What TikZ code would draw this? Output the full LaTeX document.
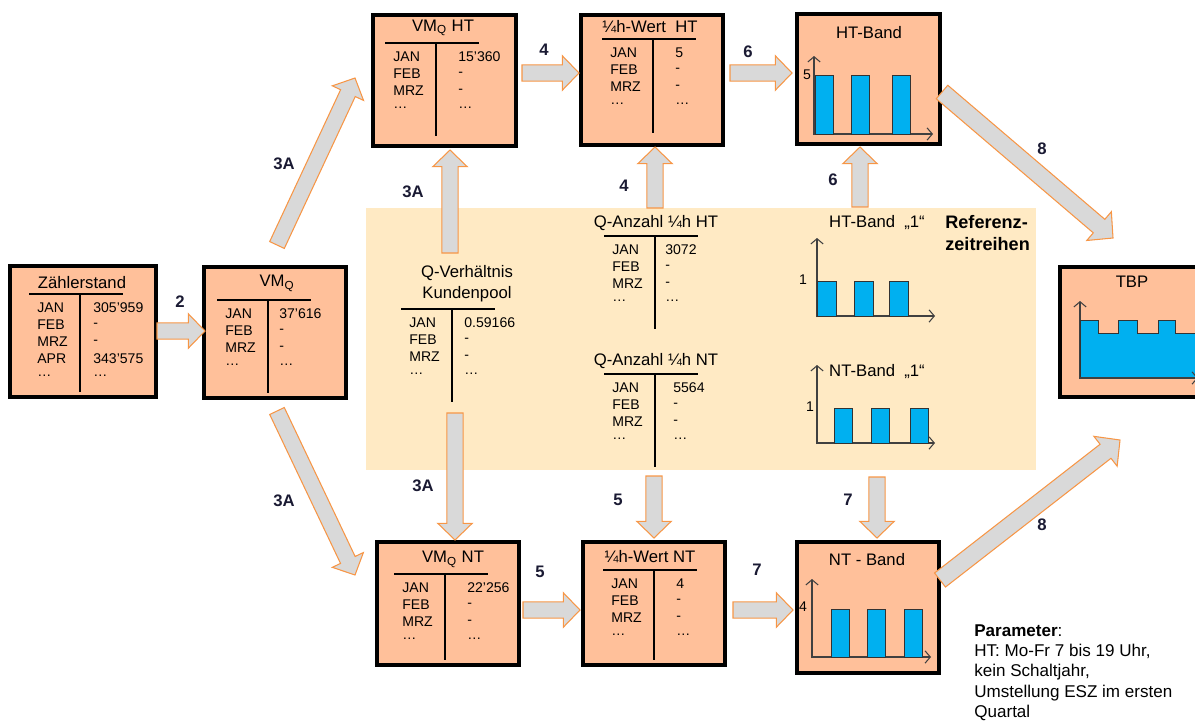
\documentclass[tikz,border=0pt]{standalone}
\usepackage{fontspec}
\setmainfont{Liberation Sans}
\usetikzlibrary{arrows.meta,calc,positioning,fit}

\definecolor{boxfill}{HTML}{FFC09A}
\definecolor{panelfill}{HTML}{FFEAC4}
\definecolor{barblue}{HTML}{00B0F0}
\definecolor{arrline}{HTML}{F79646}
\definecolor{arrfill}{HTML}{D9D9D9}
\definecolor{steplbl}{HTML}{1A1A33}

\tikzset{
  box/.style={draw=black, line width=2pt, fill=boxfill, inner sep=0pt},
  panel/.style={fill=panelfill, draw=none, inner sep=0pt},
  ttl/.style={font=\fontsize{9.5}{12}\selectfont, inner sep=0pt},
  cell/.style={font=\fontsize{8}{9}\selectfont, anchor=west, inner sep=0pt},
  tick/.style={font=\fontsize{8}{9}\selectfont, inner sep=0pt},
  steplabel/.style={font=\fontsize{9.5}{11}\selectfont\bfseries, text=steplbl, inner sep=0pt},
  tabline/.style={draw=black, line width=0.6pt},
  blockarr/.style={draw=arrline, fill=arrfill, line width=0.6pt, line join=miter},
  bar/.style={draw=black!80, fill=barblue, line width=0.5pt},
  axis/.style={draw=black!75, line width=0.6pt, -{Straight Barb[length=3pt,width=7pt]}},
}

% Wertetabelle: Name, Mitte x, Linie y, Abstand rechte Spalte, Laenge Strich, Zeilen
\newcommand{\valtab}[6]{%
  \draw[tabline] (#2-47,#3) -- (#2+47,#3);
  \draw[tabline] (#2+4,#3) -- (#2+4,#3+#5);
  \foreach \mon/\val [count=\i] in {#6} {
    \node[cell] (#1-m\i) at (#2-39,#3+14+17*\i-17) {\mon};
    \node[cell] (#1-v\i) at (#2+#4,#3+14+17*\i-17) {\val};
  }%
}

% Blockpfeil von #2 nach #3, #1 = Faktor
\newcommand{\barrow}[3][1]{%
  \coordinate (ba-h) at ($(#3)!#1*9.5pt!(#2)$);
  \draw[blockarr] ($(#2)!#1*4.6pt!90:(#3)$) -- ($(ba-h)!#1*4.6pt!90:(#3)$)
    -- ($(ba-h)!#1*9.8pt!90:(#3)$) -- (#3) -- ($(ba-h)!#1*9.8pt!-90:(#3)$)
    -- ($(ba-h)!#1*4.6pt!-90:(#3)$) -- ($(#2)!#1*4.6pt!-90:(#3)$) -- cycle;
}

\begin{document}
\begin{tikzpicture}[x=0.02cm, y=-0.02cm]
	\clip (0,0) rectangle (1195,724);
	% Hintergrund
		\node[panel, fit={(366,208) (1036,470)}] (ref) {};
	% Boxen
		\node[box, fit={(10,266) (156,397)}] (zs) {};
		\node[box, fit={(204,267) (346,398)}] (vmq) {};
		\node[box, fit={(373,15) (516,146)}] (vmqht) {};
		\node[box, fit={(581,15) (723,145)}] (qwht) {};
		\node[box, fit={(797,14) (940,144)}] (htband) {};
		\node[box, fit={(1060,267) (1204,397)}] (tbp) {};
		\node[box, fit={(377,542) (519,665)}] (vmqnt) {};
		\node[box, fit={(583,542) (725,665)}] (qwnt) {};
		\node[box, fit={(797,542) (939,673)}] (ntband) {};
	% Titel
		\node[ttl] (zs-t) at (82,283) {Zählerstand};
		\node[ttl] (vmq-t) at (277,283) {VM\textsubscript{Q}};
		\node[ttl] (vmqht-t) at (443,28) {VM\textsubscript{Q} HT};
		\node[ttl] (qwht-t) at (650,27) {¼h-Wert\ \ HT};
		\node[ttl] (htband-t) at (869,33) {HT-Band};
		\node[ttl] (tbp-t) at (1132,282) {TBP};
		\node[ttl] (vmqnt-t) at (453,559) {VM\textsubscript{Q} NT};
		\node[ttl] (qwnt-t) at (650,557) {¼h-Wert NT};
		\node[ttl] (ntband-t) at (867,560) {NT - Band};
		\node[ttl, align=center] (qvk-t) at (467,284) {Q-Verhältnis\\Kundenpool};
		\node[ttl] (qaht-t) at (656,223) {Q-Anzahl ¼h HT};
		\node[ttl] (qant-t) at (656,361) {Q-Anzahl ¼h NT};
		\node[ttl] (htref-t) at (877,223) {HT-Band\ \ „1“};
		\node[ttl] (ntref-t) at (877,372) {NT-Band\ \ „1“};
		\node[font=\fontsize{10.3}{12}\selectfont\bfseries, align=left, anchor=west, inner sep=0pt] (reflbl) at (945,233) {Referenz-\\zeitreihen};
	% Tabellen
		\valtab{zs}{76}{294}{17}{98}{JAN/305'959, FEB/-, MRZ/-, APR/343'575, {\ldots}/{\ldots}}
		\valtab{vmq}{264}{300}{15}{93}{JAN/37'616, FEB/-, MRZ/-, {\ldots}/{\ldots}}
		\valtab{vmqht}{432}{43}{26}{93}{JAN/15'360, FEB/-, MRZ/-, {\ldots}/{\ldots}}
		\valtab{qwht}{649}{39}{26}{94}{JAN/5, FEB/-, MRZ/-, {\ldots}/{\ldots}}
		\valtab{qvk}{448}{309}{16}{93}{JAN/0.59166, FEB/-, MRZ/-, {\ldots}/{\ldots}}
		\valtab{qaht}{651}{236}{14}{93}{JAN/3072, FEB/-, MRZ/-, {\ldots}/{\ldots}}
		\valtab{qant}{651}{374}{22}{93}{JAN/5564, FEB/-, MRZ/-, {\ldots}/{\ldots}}
		\valtab{vmqnt}{441}{574}{26}{86}{JAN/22'256, FEB/-, MRZ/-, {\ldots}/{\ldots}}
		\valtab{qwnt}{650}{570}{26}{90}{JAN/4, FEB/-, MRZ/-, {\ldots}/{\ldots}}
	% Baender
		\draw[axis] (814,135) -- (814,56);
		\draw[axis] (814,134) -- (933,134);
		\foreach \xa in {815,851,892} \draw[bar] (\xa,134) rectangle (\xa+18,75);
		\node[tick] (htband-y) at (807,75) {5};
		\draw[axis] (817,317) -- (817,238);
		\draw[axis] (817,316) -- (935,316);
		\foreach \xa in {817,854,889} \draw[bar] (\xa,316) rectangle (\xa+19,281);
		\node[tick] (htref-y) at (803,280) {1};
		\draw[axis] (817,444) -- (817,365);
		\draw[axis] (817,443) -- (935,443);
		\foreach \xa in {834,871,910} \draw[bar] (\xa,443) rectangle (\xa+18,408);
		\node[tick] (ntref-y) at (810,407) {1};
		\draw[axis] (812,658) -- (812,579);
		\draw[axis] (812,657) -- (931,657);
		\foreach \xa in {831,867,904} \draw[bar] (\xa,657) rectangle (\xa+18,609);
		\node[tick] (ntband-y) at (803,607) {4};
		\draw[axis] (1080,379) -- (1080,301);
		\draw[bar] (1080,378) -- (1080,320) -- (1098,320) -- (1098,333) -- (1118,333) -- (1118,320)
			-- (1137,320) -- (1137,333) -- (1158,333) -- (1158,320) -- (1175,320) -- (1175,333)
			-- (1200,333) -- (1200,378) -- cycle;
		\draw[axis] (1080,378) -- (1198,378);
	% Pfeile
		\coordinate (a2s) at (157,331);   \coordinate (a2e) at (205,331);
		\coordinate (a3us) at (277,245);  \coordinate (a3ue) at (355,78);
		\coordinate (a3ds) at (277,411);  \coordinate (a3de) at (355,575);
		\coordinate (a3vs) at (450,253);  \coordinate (a3ve) at (450,150);
		\coordinate (a3ws) at (455,413);  \coordinate (a3we) at (455,540);
		\coordinate (a4hs) at (522,73);   \coordinate (a4he) at (579,73);
		\coordinate (a6hs) at (730,73);   \coordinate (a6he) at (792,73);
		\coordinate (a4vs) at (655,208);  \coordinate (a4ve) at (655,147);
		\coordinate (a6vs) at (860,207);  \coordinate (a6ve) at (860,147);
		\coordinate (a5vs) at (654,476);  \coordinate (a5ve) at (654,538);
		\coordinate (a7vs) at (877,477);  \coordinate (a7ve) at (877,538);
		\coordinate (a5hs) at (523,610);  \coordinate (a5he) at (580,610);
		\coordinate (a7hs) at (733,610);  \coordinate (a7he) at (793,610);
		\coordinate (a8us) at (942,92);   \coordinate (a8ue) at (1113,238);
		\coordinate (a8ls) at (940,580);  \coordinate (a8le) at (1120,440);
		\barrow{a2s}{a2e}
		\barrow{a3us}{a3ue}
		\barrow{a3ds}{a3de}
		\barrow{a3vs}{a3ve}
		\barrow{a3ws}{a3we}
		\barrow{a4hs}{a4he}
		\barrow{a6hs}{a6he}
		\barrow{a4vs}{a4ve}
		\barrow{a6vs}{a6ve}
		\barrow{a5vs}{a5ve}
		\barrow{a7vs}{a7ve}
		\barrow{a5hs}{a5he}
		\barrow{a7hs}{a7he}
		\barrow[1.1]{a8us}{a8ue}
		\barrow[1.1]{a8ls}{a8le}
	% Schritte
		\node[steplabel] (s2) at (180,302) {2};
		\node[steplabel] (s3a1) at (284,164) {3A};
		\node[steplabel] (s3a2) at (413,192) {3A};
		\node[steplabel] (s3a3) at (284,501) {3A};
		\node[steplabel] (s3a4) at (423,486) {3A};
		\node[steplabel] (s4a) at (544,50) {4};
		\node[steplabel] (s4b) at (624,186) {4};
		\node[steplabel] (s6a) at (748,52) {6};
		\node[steplabel] (s6b) at (833,180) {6};
		\node[steplabel] (s5a) at (618,500) {5};
		\node[steplabel] (s5b) at (540,572) {5};
		\node[steplabel] (s7a) at (848,500) {7};
		\node[steplabel] (s7b) at (757,570) {7};
		\node[steplabel] (s8a) at (1042,149) {8};
		\node[steplabel] (s8b) at (1042,525) {8};
	% Parameter
		\node[font=\fontsize{9.7}{11.6}\selectfont, align=left, anchor=north west, inner sep=0pt] (par) at (974,624)
			{\textbf{Parameter}:\\HT: Mo-Fr 7 bis 19 Uhr,\\kein Schaltjahr,\\Umstellung ESZ im ersten\\Quartal};
\end{tikzpicture}
\end{document}
